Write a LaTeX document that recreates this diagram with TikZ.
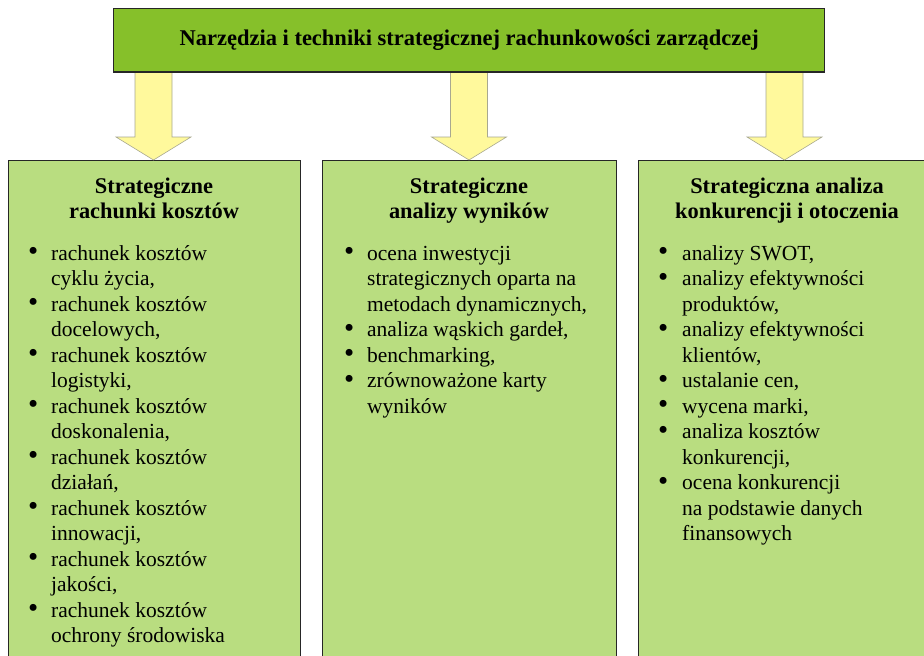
\documentclass[tikz,border=0pt]{standalone}
\usepackage{fontspec}
\setmainfont{Liberation Serif}
\usetikzlibrary{calc}
\definecolor{titlegreen}{HTML}{86C02A}
\definecolor{colgreen}{HTML}{B9DD80}
\definecolor{arrowfill}{HTML}{FFF99C}
\definecolor{arrowline}{HTML}{A8A890}
\tikzset{
  titlebox/.style={draw=black!85, line width=1.3pt, fill=titlegreen, minimum width=711pt, minimum height=64pt, anchor=north west, inner sep=0pt, font=\fontsize{22.5}{26}\selectfont\bfseries},
  colbox/.style={draw=black!85, line width=1.3pt, fill=colgreen, anchor=north west, minimum height=560pt, inner sep=0pt},
  heading/.style={anchor=north, align=center, inner sep=0pt, font=\fontsize{22.4}{25.5}\selectfont\bfseries},
  itemlist/.style={anchor=north west, inner sep=0pt, font=\fontsize{21.5}{25.5}\selectfont},
  blockarrow/.style={draw=arrowline, line width=0.6pt, fill=arrowfill}
}
\newcommand{\bul}{\smash{\raisebox{-0.03em}{\scalebox{1.35}{\textbullet}}}}
\begin{document}
\begin{tikzpicture}[x=1pt,y=-1pt]
\useasboundingbox (0,0) rectangle (924,656);
% column boxes
\node[colbox, minimum width=292pt] (c1) at (8,160) {};
\node[colbox, minimum width=294pt] (c2) at (322,160) {};
\node[colbox, minimum width=298pt] (c3) at (638,160) {};
% title
\node[titlebox] (t) at (113,8) {\raisebox{-3pt}{Narzędzia i techniki strategicznej rachunkowości zarządczej}};
% block arrows
\foreach \cx/\nm in {153.5/a1, 469/a2, 784.5/a3}{
  \draw[blockarrow] ($(\cx-18.5,0)+(0,72)$) -- (\cx-18.5,137) -- (\cx-37.5,137) -- (\cx,160) -- (\cx+37.5,137) -- (\cx+18.5,137) -- (\cx+18.5,72) -- cycle;
}
\draw[draw=black!85, line width=1.3pt] (113,72) -- (824,72);
% headings
\node[heading] (h1) at (154,177.5) {Strategiczne\\rachunki kosztów};
\node[heading] (h2) at (469,177.5) {Strategiczne\\analizy wyników};
\node[heading] (h3) at (787,177.5) {Strategiczna analiza\\konkurencji i otoczenia};
% lists
\node[itemlist] (l1) at (28,242) {\begin{tabular}{@{}p{23pt}@{}l@{}}
\bul & rachunek kosztów\\ & cyklu życia,\\
\bul & rachunek kosztów\\ & docelowych,\\
\bul & rachunek kosztów\\ & logistyki,\\
\bul & rachunek kosztów\\ & doskonalenia,\\
\bul & rachunek kosztów\\ & działań,\\
\bul & rachunek kosztów\\ & innowacji,\\
\bul & rachunek kosztów\\ & jakości,\\
\bul & rachunek kosztów\\ & ochrony środowiska
\end{tabular}};
\node[itemlist] (l2) at (344,242) {\begin{tabular}{@{}p{23pt}@{}l@{}}
\bul & ocena inwestycji\\ & strategicznych oparta na\\ & metodach dynamicznych,\\
\bul & analiza wąskich gardeł,\\
\bul & benchmarking,\\
\bul & zrównoważone karty\\ & wyników
\end{tabular}};
\node[itemlist] (l3) at (658,242) {\begin{tabular}{@{}p{24pt}@{}l@{}}
\bul & analizy SWOT,\\
\bul & analizy efektywności\\ & produktów,\\
\bul & analizy efektywności\\ & klientów,\\
\bul & ustalanie cen,\\
\bul & wycena marki,\\
\bul & analiza kosztów\\ & konkurencji,\\
\bul & ocena konkurencji\\ & na podstawie danych\\ & finansowych
\end{tabular}};
\end{tikzpicture}
\end{document}
